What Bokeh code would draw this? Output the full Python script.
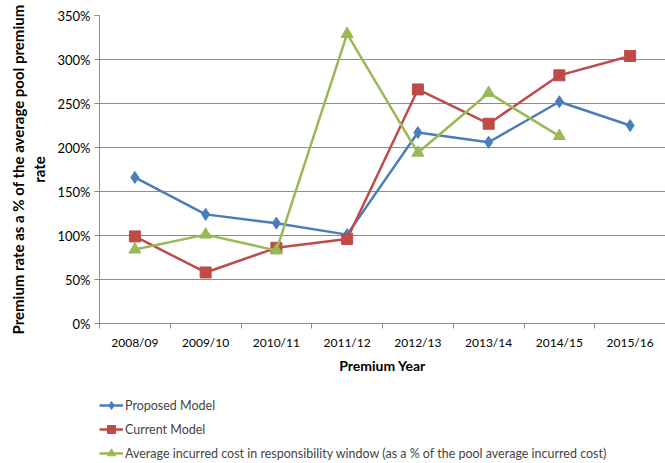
from bokeh.plotting import figure
from bokeh.layouts import column
from bokeh.models import (Range1d, FixedTicker, PrintfTickFormatter, Legend, LegendItem)
from bokeh.embed import file_html
from bokeh.resources import INLINE

years = ["2008/09", "2009/10", "2010/11", "2011/12", "2012/13", "2013/14", "2014/15", "2015/16"]
proposed = [166, 124, 114, 101, 217, 206, 252, 225]
current = [99, 58, 86, 96, 266, 227, 282, 304]
incurred = [84, 101, 83, 329, 194, 262, 213]

series_names = ["Proposed Model", "Current Model",
                "Average incurred cost in responsibility window (as a % of the pool average incurred cost)"]
colors = ["#4A7EBB", "#BE4B48", "#98B954"]
markers = ["diamond", "square", "triangle"]
sizes = [12, 11, 12]
series = [proposed, current, incurred]

FONT = "Lato"
GRID = "#8C8C8C"

xs = [i + 0.5 for i in range(len(years))]

p = figure(width=665, height=395, output_backend="svg", toolbar_location=None,
           x_range=Range1d(0, len(years)), y_range=Range1d(0, 350),
           min_border_left=99, min_border_right=0, min_border_top=15, min_border_bottom=72)
p.outline_line_color = None
p.background_fill_color = "white"
p.border_fill_color = "white"

# x axis: labels at category centres, tick marks on category boundaries
xa = p.xaxis[0]
xa.ticker = FixedTicker(ticks=xs, minor_ticks=list(range(len(years) + 1)))
xa.major_label_overrides = {x: y for x, y in zip(xs, years)}
xa.major_tick_line_color = None
xa.minor_tick_line_color = GRID
xa.minor_tick_out = 5
xa.minor_tick_in = 0
xa.axis_line_color = GRID
xa.major_label_text_font = FONT
xa.major_label_text_font_size = "12px"
xa.major_label_text_color = "#000000"
xa.major_label_standoff = 5
xa.axis_label = "Premium Year"
xa.axis_label_text_font = FONT
xa.axis_label_text_font_style = "bold"
xa.axis_label_text_font_size = "14px"
xa.axis_label_text_color = "#000000"
xa.axis_label_standoff = 4

ya = p.yaxis[0]
ya.ticker = FixedTicker(ticks=list(range(0, 351, 50)))
ya.formatter = PrintfTickFormatter(format="%d%%")
ya.axis_line_color = GRID
ya.major_tick_line_color = GRID
ya.major_tick_out = 5
ya.major_tick_in = 0
ya.minor_tick_line_color = None
ya.major_label_text_font = FONT
ya.major_label_text_font_size = "13px"
ya.major_label_text_color = "#000000"
ya.major_label_standoff = 4
ya.axis_label = "Premium rate as a % of the average pool premium\nrate"
ya.axis_label_text_font = FONT
ya.axis_label_text_font_style = "bold"
ya.axis_label_text_font_size = "15px"
ya.axis_label_text_color = "#000000"
ya.axis_label_standoff = 6

p.xgrid.grid_line_color = None
p.ygrid.grid_line_color = GRID
p.ygrid.grid_line_width = 1

for vals, col, mk, sz in zip(series, colors, markers, sizes):
    x = xs[:len(vals)]
    p.line(x, vals, line_color=col, line_width=2.5)
    p.scatter(x, vals, marker=mk, size=sz, fill_color=col, line_color=col)

# legend strip under the chart; its series sit outside the visible range,
# so only the legend entries show
lf = figure(width=665, height=68, output_backend="svg", toolbar_location=None,
            x_range=Range1d(100, 101), y_range=Range1d(0, 350),
            x_axis_location=None, y_axis_location=None,
            min_border_left=68, min_border_right=0, min_border_top=0, min_border_bottom=0)
lf.grid.visible = False
lf.outline_line_color = None

items = []
for name, vals, col, mk, sz in zip(series_names, series, colors, markers, sizes):
    x = xs[:len(vals)]
    ln = lf.line(x, vals, line_color=col, line_width=2.5)
    sc = lf.scatter(x, vals, marker=mk, size=8, fill_color=col, line_color=col)
    items.append(LegendItem(label=name, renderers=[ln, sc]))

legend = Legend(items=items, orientation="vertical", location="top_left",
                label_text_font=FONT, label_text_font_size="12.5px",
                glyph_width=24, glyph_height=20, label_standoff=2, spacing=4,
                padding=0, margin=0, border_line_color=None, background_fill_alpha=0)
lf.add_layout(legend, "center")

layout = column(p, lf, spacing=0)
open("out.html", "w").write(file_html(layout, INLINE))
